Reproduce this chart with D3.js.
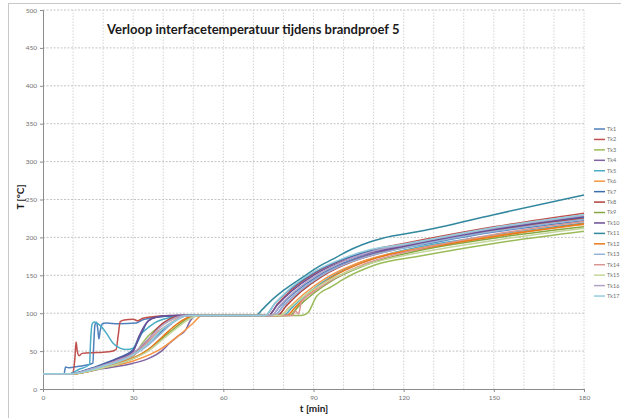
<!DOCTYPE html>
<html>
<head>
<meta charset="utf-8">
<script src="https://cdn.jsdelivr.net/npm/d3@7"></script>
<style>
  body { margin: 0; background: #fff; }
  svg { display: block; font-family: Lato, "Open Sans", sans-serif; }
</style>
</head>
<body>
<div id="chart"></div>
<script>
// Series data: [t (min), T (°C)].
var tk1 = [[0,20],[7,20],[7.5,29],[8.5,28],[12,30],[15,32],[16.6,34],[16.9,60],[17.3,85],[17.8,88],[18.2,80],[18.6,66],[19,76],[19.8,86],[21,87],[25,86],[31,87],[33,91],[38,95],[45,97],[60,97],[76,97],[79,110],[84,128],[91,148],[101,168],[111,180],[120,186],[150,207],[180,222]];
var tk2 = [[0,20],[9,20],[10,22],[10.6,40],[11,62],[11.4,50],[12,44],[13,47],[18,48],[22,49],[24.3,52],[25,70],[25.7,89],[27,91],[30,92],[31.5,90],[33,93],[38,96],[45,97],[60,97],[75,97],[78,112],[83,132],[90,152],[100,171],[110,184],[120,192],[150,214],[180,232]];
var tk3 = [[0,20],[10,20],[15,24],[20,29],[25,35],[30,43],[33,60],[35,70],[38,80],[42,90],[46,96],[50,97],[70,97],[86,97],[88,100],[91,122],[96,135],[100,145],[110,163],[125,175],[150,192],[180,208]];
var tk4 = [[0,20],[10,20],[15,23],[20,27],[25,30],[30,34],[35,40],[40,52],[42,60],[45,70],[47.5,78],[49,90],[50.5,96],[55,97],[77,97],[80,110],[85,128],[92,148],[102,168],[112,181],[120,188],[150,210],[180,226]];
var tk5 = [[0,20],[9,20],[12,26],[15,31],[15.5,33],[15.8,60],[16.3,85],[17,88.5],[18,87],[19,84],[21.2,73],[23.4,60],[25.6,54],[27.8,52],[30,54],[32.2,71],[34.4,79],[37,87],[40,92],[45,96],[50,97],[80,97],[83,108],[88,126],[95,146],[105,166],[115,178],[120,183],[150,203],[180,219]];
var tk6 = [[0,20],[10,20],[20,28],[30,37],[40,55],[45,70],[50,87],[52.5,96],[55,97],[79,97],[82,108],[87,126],[94,146],[104,165],[114,177],[120,182],[150,202],[180,217]];
var tk7 = [[0,20],[9,20],[15,26],[20,33],[25,41],[30,52],[33,75],[35,90],[38,95],[45,97],[74,97],[77,112],[82,131],[89,151],[99,170],[109,182],[120,189],[150,211],[180,227]];
var tk8 = [[0,20],[9,20],[15,25],[20,31],[25,38],[30,47],[35,65],[38,80],[42,92],[46,97],[78,97],[81,110],[86,129],[93,149],[103,168],[113,180],[120,187],[150,209],[180,225]];
var tk9 = [[0,20],[10,20],[15,23],[20,28],[25,33],[30,40],[35,52],[40,68],[45,84],[48,93],[51,97],[82,97],[85,109],[90,126],[97,145],[107,163],[117,175],[120,178],[150,199],[180,214]];
var tk10 = [[0,20],[9,20],[15,25],[20,32],[25,40],[30,50],[32,70],[34,85],[37,94],[42,97],[75,97],[78,111],[83,130],[90,150],[100,169],[110,181],[120,188],[150,210],[180,228]];
var tk11 = [[0,20],[9,20],[15,24],[20,30],[25,37],[30,45],[35,60],[40,78],[44,90],[48,97],[71,97],[72.5,103],[75.5,115],[80,130],[86.6,148],[92,162],[97.7,174],[103,185],[108.7,194],[113,199],[125.4,208],[150,230],[180,256]];
var tk12 = [[0,20],[10,20],[15,23],[20,29],[25,34],[30,41],[35,52],[40,70],[44,84],[48,94],[51,97],[81,97],[84,108],[89,127],[96,147],[106,166],[116,178],[120,181],[150,201],[180,218]];
var tk13 = [[0,20],[9,20],[15,25],[20,31],[25,37],[30,45],[35,58],[40,76],[43,87],[47,96],[50,97],[77,97],[80,110],[85,128],[92,148],[102,167],[112,179],[120,186],[150,208],[180,224]];
var tk14 = [[0,20],[9,20],[15,24],[20,30],[25,36],[30,44],[35,62],[38,75],[42,86],[46,95],[49,97],[83,97],[84,103],[85,99],[86,115],[90,128],[97,146],[107,165],[117,177],[120,180],[150,204],[180,221]];
var tk15 = [[0,20],[10,20],[15,23],[20,28],[25,33],[30,40],[35,50],[40,66],[45,82],[49,93],[52,97],[79,97],[82,107],[87,123],[94,141],[104,159],[114,171],[120,176],[150,196],[180,212]];
var tk16 = [[0,20],[9,20],[15,25],[20,31],[25,38],[30,47],[35,66],[40,85],[44,94],[48,97],[76,97],[79,111],[84,130],[91,150],[101,170],[111,183],[120,190],[150,212],[180,229]];
var tk17 = [[0,20],[9,20],[15,24],[20,30],[25,36],[30,45],[35,60],[40,80],[45,92],[48,97],[74,97],[77,112],[82,132],[89,152],[99,171],[109,184],[120,191],[150,213],[180,230]];

var seriesNames = ["Tk1","Tk2","Tk3","Tk4","Tk5","Tk6","Tk7","Tk8","Tk9","Tk10","Tk11","Tk12","Tk13","Tk14","Tk15","Tk16","Tk17"];
var seriesData = [tk1,tk2,tk3,tk4,tk5,tk6,tk7,tk8,tk9,tk10,tk11,tk12,tk13,tk14,tk15,tk16,tk17];
var seriesColors = ["#4F81BD","#C0504D","#9BBB59","#8064A2","#4BACC6","#F79646",
                    "#3C6EAE","#B0413E","#86A843","#6A4E96","#31879E","#E8791C",
                    "#95B3D7","#D99694","#C3D69B","#B3A2C7","#93CDDD"];

var xTicks = [0, 30, 60, 90, 120, 150, 180];
var xGrid = d3.range(10, 181, 10);
var yTicks = [0, 50, 100, 150, 200, 250, 300, 350, 400, 450, 500];

var width = 621, height = 418;
var margin = {left: 43, right: 37, top: 10, bottom: 29};

var svg = d3.select("#chart").append("svg")
    .attr("width", width)
    .attr("height", height);

// Outer chart frame
svg.append("rect")
    .attr("x", 8.5).attr("y", 3.5)
    .attr("width", 700).attr("height", 500)
    .attr("fill", "none").attr("stroke", "#c8c8c8");

var x = d3.scaleLinear().domain([0, 180]).range([margin.left, width - margin.right]);
var y = d3.scaleLinear().domain([0, 500]).range([height - margin.bottom, margin.top]);

// Gridlines
svg.append("g").selectAll("line").data(xGrid).join("line")
    .attr("x1", d => x(d)).attr("x2", d => x(d))
    .attr("y1", y(0)).attr("y2", y(500))
    .attr("stroke", "#d4d4d4").attr("stroke-dasharray", "1.5,1.5");
svg.append("g").selectAll("line").data(yTicks.slice(1)).join("line")
    .attr("x1", x(0)).attr("x2", x(180))
    .attr("y1", d => y(d)).attr("y2", d => y(d))
    .attr("stroke", "#c4c4c4").attr("stroke-dasharray", "2,1.5");

// Axes
var xAxis = svg.append("g")
    .attr("transform", "translate(0," + y(0) + ")")
    .call(d3.axisBottom(x).tickValues(xTicks).tickSize(3).tickPadding(3));
var yAxis = svg.append("g")
    .attr("transform", "translate(" + x(0) + ",0)")
    .call(d3.axisLeft(y).tickValues(yTicks).tickSize(3).tickPadding(3));
[xAxis, yAxis].forEach(function(g) {
  g.select(".domain").attr("stroke", "#8c8c8c");
  g.selectAll(".tick line").attr("stroke", "#8c8c8c");
  g.selectAll("text").attr("fill", "#707070").style("font-size", "6.5px")
   .style("font-family", "Lato, sans-serif");
});

// Lines
var line = d3.line()
    .x(d => x(d[0]))
    .y(d => y(d[1]))
    .curve(d3.curveMonotoneX);

svg.append("g").selectAll("path").data(seriesData).join("path")
    .attr("d", line)
    .attr("fill", "none")
    .attr("stroke", (d, i) => seriesColors[i])
    .attr("stroke-width", 1.5)
    .attr("stroke-linejoin", "round");

// Title
svg.append("text")
    .attr("x", 107).attr("y", 34)
    .style("font-size", "13px").style("font-weight", "bold")
    .attr("fill", "#1a1a1a")
    .text("Verloop interfacetemperatuur tijdens brandproef 5");

// Axis titles
svg.append("text")
    .attr("transform", "translate(24," + 197 + ") rotate(-90)")
    .attr("text-anchor", "middle")
    .style("font-size", "10px").style("font-weight", "bold")
    .attr("fill", "#1a1a1a")
    .text("T [°C]");
svg.append("text")
    .attr("x", 314).attr("y", 412)
    .attr("text-anchor", "middle")
    .style("font-size", "10px").style("font-weight", "bold")
    .attr("fill", "#1a1a1a")
    .text("t [min]");

// Legend (kept inside the window so no label is cut)
var legend = svg.append("g")
    .selectAll("g").data(seriesNames).join("g")
    .attr("transform", (d, i) => "translate(594," + (129 + i * 10.44) + ")");
legend.append("line")
    .attr("x1", 0).attr("x2", 11)
    .attr("stroke", (d, i) => seriesColors[i])
    .attr("stroke-width", 1.5);
legend.append("text")
    .attr("x", 13).attr("dy", "0.35em")
    .style("font-size", "5.5px")
    .attr("fill", "#707070")
    .text(d => d);
</script>
</body>
</html>
